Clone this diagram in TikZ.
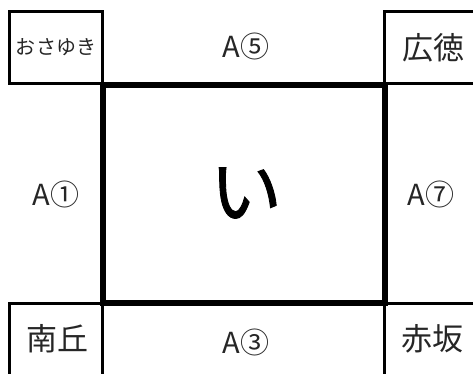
\documentclass[tikz,border=0pt]{standalone}
\usepackage{fontspec}
\newfontfamily\jp{Noto Sans CJK JP}
\newfontfamily\jpbig[FakeBold=1.2]{Noto Sans CJK JP}
\begin{document}
\begin{tikzpicture}[x=1pt,y=-1pt,
  thinbox/.style={draw, line width=3pt, inner sep=0pt, outer sep=0pt},
  thickbox/.style={draw, line width=6pt, inner sep=0pt, outer sep=0pt},
  lbl/.style={inner sep=0pt, text=black!85, font=\jp\fontsize{29}{29}\selectfont},
  kanji/.style={inner sep=0pt, text=black!85, font=\jp\fontsize{31}{31}\selectfont},
  kana/.style={inner sep=0pt, text=black!85, font=\jp\fontsize{20}{20}\selectfont},
  big/.style={inner sep=0pt, text=black, font=\jpbig\fontsize{72}{72}\selectfont}]
\useasboundingbox (0,0) rectangle (473,374);
\clip (0,0) rectangle (473,374);
% corner boxes
\node[thinbox, minimum width=93.5pt, minimum height=72pt] (tl) at (55.75,48) {};
\node[thinbox, minimum width=100pt, minimum height=72pt] (tr) at (434.5,48) {};
\node[thinbox, minimum width=93.5pt, minimum height=83pt] (bl) at (55.75,344.5) {};
\node[thinbox, minimum width=100pt, minimum height=83pt] (br) at (434.5,344.5) {};
% centre
\node[thickbox, minimum width=282pt, minimum height=218pt] (c) at (244,194) {};
% labels
\node[kana] (t1) at (56,47) {おさゆき};
\node[kanji] (t2) at (433,48) {広徳};
\node[kanji] (t3) at (57,339) {南丘};
\node[kanji] (t4) at (432,339) {赤坂};
\node[lbl] (a5) at (246,46) {A⑤};
\node[lbl] (a1) at (56,194) {A①};
\node[lbl] (a7) at (431,194) {A⑦};
\node[lbl] (a3) at (246,342) {A③};
\node[big] (i) at (246,193) {い};
\end{tikzpicture}
\end{document}
